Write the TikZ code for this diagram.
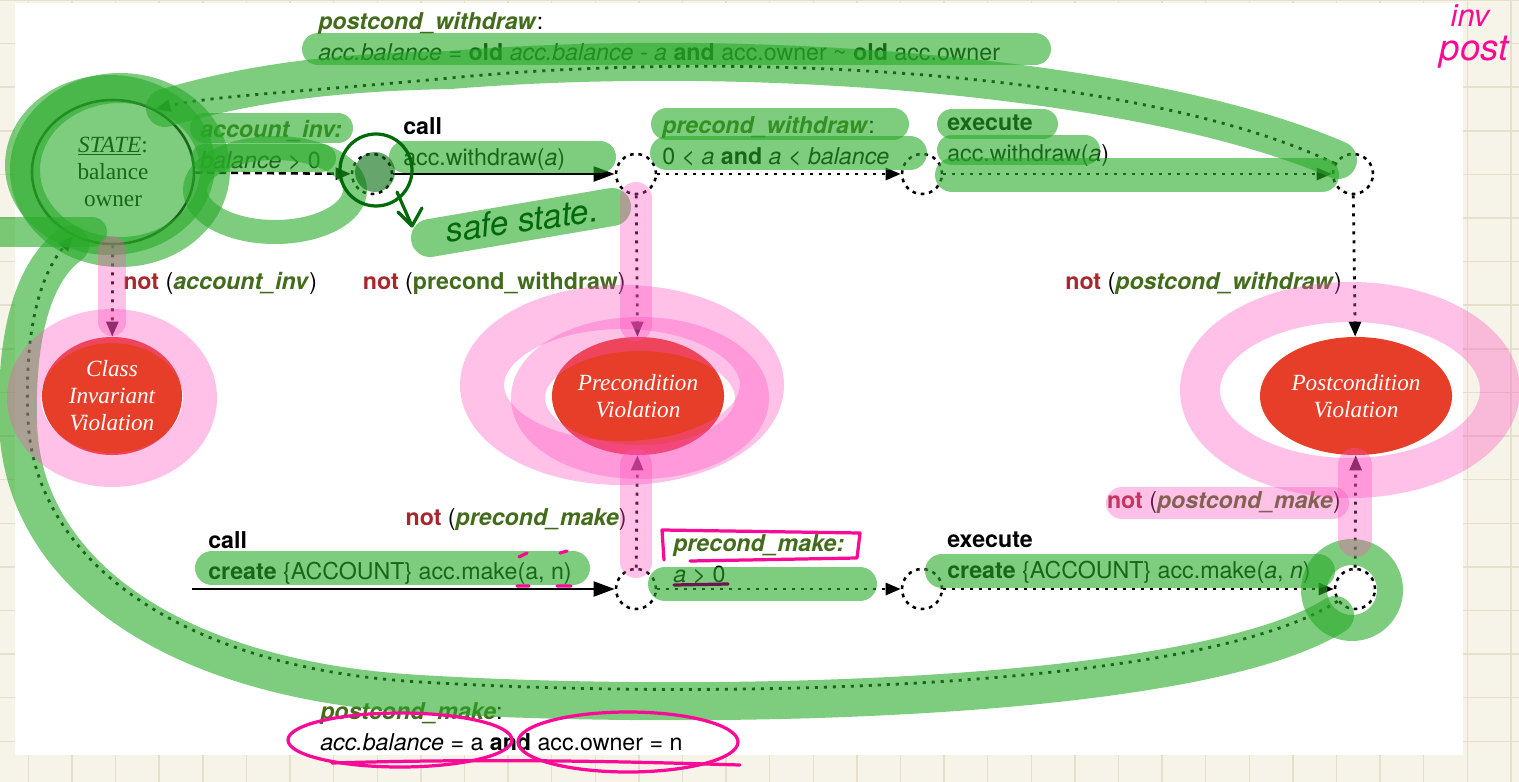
\documentclass[tikz,border=0pt]{standalone}
\usepackage{fontspec}
\setmainfont{TeX Gyre Heros}
\newfontfamily\timesface{Liberation Serif}
\usetikzlibrary{arrows.meta,shapes.geometric}

\definecolor{condgreen}{RGB}{66,108,28}
\definecolor{notred}{RGB}{168,38,44}
\definecolor{violred}{RGB}{230,62,40}
\definecolor{paper}{RGB}{246,244,232}
\definecolor{gridline}{RGB}{228,224,204}
\definecolor{hlgreen}{RGB}{40,170,40}
\definecolor{hlpink}{RGB}{255,80,190}
\definecolor{penpink}{RGB}{250,10,150}
\definecolor{pengreen}{RGB}{0,105,10}
\definecolor{penplum}{RGB}{110,20,80}

\newcommand{\cnd}[1]{\textcolor{condgreen}{\textbf{\textit{#1}}}}
\newcommand{\nt}{\textcolor{notred}{\textbf{not}}}

\begin{document}
\begin{tikzpicture}[
  x=0.025cm, y=-0.025cm,
  every node/.style={font=\fontsize{16.5}{22}\selectfont, inner sep=0pt},
  lbl/.style={anchor=west, align=left},
  notlbl/.style={anchor=east},
  statebox/.style={ellipse, draw, line width=1.8pt, minimum width=4.05cm,
                   minimum height=3.6cm, align=center,
                   font=\timesface\fontsize{16.5}{19.2}\selectfont},
  viol/.style={ellipse, fill=violred, text=white, align=center,
               minimum height=2.95cm,
               font=\timesface\itshape\fontsize{16.5}{19.2}\selectfont},
  junc/.style={circle, draw, line width=1.8pt, dash pattern=on 2.6pt off 3.4pt,
               minimum size=1cm},
  flow/.style={line width=2pt, dash pattern=on 2.2pt off 4.2pt,
               -{Triangle[length=10.7pt,width=8.5pt]}},
  callarrow/.style={line width=2pt, -{Triangle[length=15pt,width=10.5pt]}},
  hlg/.style={draw=hlgreen, draw opacity=0.6, line cap=round, line join=round,
              line width=#1},
  hlp/.style={draw=hlpink, draw opacity=0.35, line cap=round, line join=round,
              line width=#1},
  pen/.style={line width=2.3pt, line cap=round, line join=round}
]

  \useasboundingbox (0,0) rectangle (1519,782);

  % --- Notebook page ---
  \fill[paper] (0,0) rectangle (1519,782);
  \foreach \gx in {0,...,34}
    \draw[gridline, line width=1pt] ({28.4+43.6*\gx},0) -- ++(0,782);
  \foreach \gy in {0,...,18}
    \draw[gridline, line width=1pt] (0,{43.6*\gy}) -- ++(1519,0);
  \fill[white] (15,3) rectangle (1463,755);

  % --- States ---
  \node[statebox] (state) at (113,172)
    {\underline{\textit{STATE}}:\\balance\\owner};
  \node[viol, minimum width=3.5cm] (classv) at (112,396)
    {Class\\Invariant\\Violation};
  \node[viol, minimum width=4.3cm] (prev) at (638,396)
    {Precondition\\Violation};
  \node[viol, minimum width=4.8cm] (postv) at (1356,396)
    {Postcondition\\Violation};

  % --- Junctions: withdraw row ---
  \node[junc] (c0) at (372,174) {};
  \node[junc] (c1) at (636,174) {};
  \node[junc] (c2) at (922,174) {};
  \node[junc] (c3) at (1353,174) {};

  % --- Junctions: make row ---
  \coordinate (start) at (192,589);
  \node[junc] (c4) at (636,589) {};
  \node[junc] (c5) at (922,589) {};
  \node[junc] (c6) at (1355,589) {};

  % --- Transitions ---
  \draw[line width=1.8pt, dash pattern=on 5pt off 3.5pt,
        -{Triangle[length=10.7pt,width=8.5pt]}] (state) -- (c0);
  \draw[callarrow] (c0) -- (c1);
  \draw[flow] (c1) -- (c2);
  \draw[flow] (c2) -- (c3);
  \draw[flow] (c3.150) .. controls (1150,75) and (760,48) .. (450,78)
    .. controls (300,92) and (210,96) .. (state.56);
  \draw[flow] (state) -- (classv);
  \draw[flow] (c1) -- (prev);
  \draw[flow] (c3) -- (postv);

  \draw[callarrow] (start) -- (c4);
  \draw[flow] (c4) -- (prev);
  \draw[flow] (c4) -- (c5);
  \draw[flow] (c5) -- (c6);
  \draw[flow] (c6) -- (postv);
  \draw[flow] (c6.215) .. controls (1200,690) and (720,700) .. (420,682)
    .. controls (180,668) and (35,560) .. (28,420)
    .. controls (24,330) and (40,275) .. (state.238);

  % --- Labels: withdraw ---
  \node[lbl] (invlbl) at (200,145)
    {\cnd{account\_inv:}\\\textit{balance} > 0};
  \node[lbl] (callw) at (403,144)
    {\textbf{call}\\acc.withdraw(\textit{a})};
  \node[lbl] (prew) at (662,141)
    {\cnd{precond\_withdraw}:\\0 < \textit{a} \textbf{and} \textit{a} < \textit{balance}};
  \node[lbl] (exew) at (947,141)
    {\textbf{execute}\\acc.withdraw(\textit{a})};
  \node[lbl] (postw) at (318,37)
    {\cnd{postcond\_withdraw}:\\\textit{acc.balance} = \textbf{old} \textit{acc.balance - a}
     \textbf{and} acc.owner \textasciitilde{} \textbf{old} acc.owner};

  % --- Labels: violations ---
  \node[anchor=west] (notinv) at (123,283) {\nt{} (\cnd{account\_inv})};
  \node[notlbl] (notprew) at (626,283)
    {\nt{} (\textcolor{condgreen}{\textbf{precond\_withdraw}})};
  \node[notlbl] (notpostw) at (1342,283) {\nt{} (\cnd{postcond\_withdraw})};
  \node[notlbl] (notprem) at (627,520) {\nt{} (\cnd{precond\_make})};
  \node[notlbl] (notpostm) at (1341,503) {\nt{} (\cnd{postcond\_make})};

  % --- Labels: make ---
  \node[lbl] (callm) at (208,558)
    {\textbf{call}\\\textbf{create} \{ACCOUNT\} acc.make(a, n)};
  \node[lbl] (prem) at (673,559) {\cnd{precond\_make:}\\\textit{a} > 0};
  \node[lbl] (exem) at (947,558)
    {\textbf{execute}\\\textbf{create} \{ACCOUNT\} acc.make(\textit{a}, \textit{n})};
  \node[lbl] (postm) at (320,727)
    {\cnd{postcond\_make}:\\\textit{acc.balance} = a \textbf{and} acc.owner = n};

  % --- Green highlighter ---
  \fill[hlgreen, opacity=0.6] (110,165) ellipse [x radius=105, y radius=90];
  \draw[hlg=0.75cm] (120,170) ellipse [x radius=95, y radius=82];
  \draw[hlg=0.75cm] (2,232) -- (92,232);
  \draw[hlg=0.6cm] (275,190) ellipse [x radius=80, y radius=42];
  \draw[hlg=0.75cm] (205,128) -- (338,128);
  \draw[hlg=0.7cm] (205,158) -- (322,158);
  \draw[hlg=0.95cm] (165,108) .. controls (260,80) and (350,72) .. (450,70)
    .. controls (760,45) and (1150,78) .. (1338,160);
  \draw[hlg=0.8cm] (318,49) -- (1035,49);
  \draw[hlg=0.8cm] (405,157) -- (600,157);
  \draw[hlg=0.8cm] (667,124) -- (893,124);
  \draw[hlg=0.85cm] (667,153) -- (910,153);
  \draw[hlg=0.75cm] (952,124) -- (1043,124);
  \draw[hlg=0.75cm] (952,150) -- (1085,150);
  \draw[hlg=0.85cm] (952,175) -- (1322,175);
  \draw[hlg=0.95cm] (430,238) -- (612,207);
  \draw[hlg=0.85cm] (212,568) -- (573,568);
  \draw[hlg=0.85cm] (665,584) -- (860,584);
  \draw[hlg=0.85cm] (942,571) -- (1318,571);
  \draw[hlg=0.65cm] (1352,590) circle [radius=38];
  \draw[hlg=0.95cm] (1335,615) .. controls (1200,700) and (720,712) .. (420,694)
    .. controls (170,680) and (20,570) .. (18,420)
    .. controls (16,330) and (35,270) .. (70,245);

  % --- Pink highlighter ---
  \draw[hlp=0.7cm] (112,250) -- (112,322);
  \draw[hlp=0.85cm] (112,398) ellipse [x radius=88, y radius=72];
  \draw[hlp=0.8cm] (636,198) -- (636,325);
  \draw[hlp=1.1cm] (622,385) ellipse [x radius=140, y radius=78];
  \draw[hlp=0.85cm] (640,398) ellipse [x radius=112, y radius=64];
  \draw[hlp=0.8cm] (636,465) -- (636,562);
  \draw[hlp=1cm] (1350,390) ellipse [x radius=150, y radius=88];
  \draw[hlp=0.85cm] (1355,465) -- (1355,540);
  \draw[hlp=0.8cm] (1122,503) -- (1333,503);

  % --- Pen marks ---
  \fill[pengreen, opacity=0.6] (375,172) circle [radius=20];
  \draw[pen, pengreen] (376,170) circle [radius=36];
  \draw[pen, pengreen] (397,192) -- (412,226) (398,212) -- (412,226) -- (422,208);
  \node[text=pengreen, rotate=8, font=\itshape\fontsize{24}{24}\selectfont]
    (safe) at (522,220) {safe state.};
  \draw[pen, penpink] (664,560) -- (662,530) -- (860,533) -- (857,558) -- (690,561);
  \draw[pen, penpink] (519,557) -- (527,553) (517,586) -- (529,586)
    (560,553) -- (567,551) (557,586) -- (571,586);
  \draw[pen, penplum] (674,585) -- (728,584);
  \draw[pen, penpink] (400,740) ellipse [x radius=112, y radius=27];
  \draw[pen, penpink] (628,742) ellipse [x radius=110, y radius=30];
  \draw[pen, penpink] (332,763) .. controls (500,758) and (640,762) .. (740,765);
  \node[text=penpink, font=\itshape\fontsize{22}{22}\selectfont]
    (inv) at (1470,16) {inv};
  \node[text=penpink, font=\itshape\fontsize{26}{26}\selectfont]
    (post) at (1474,52) {post};

\end{tikzpicture}
\end{document}
